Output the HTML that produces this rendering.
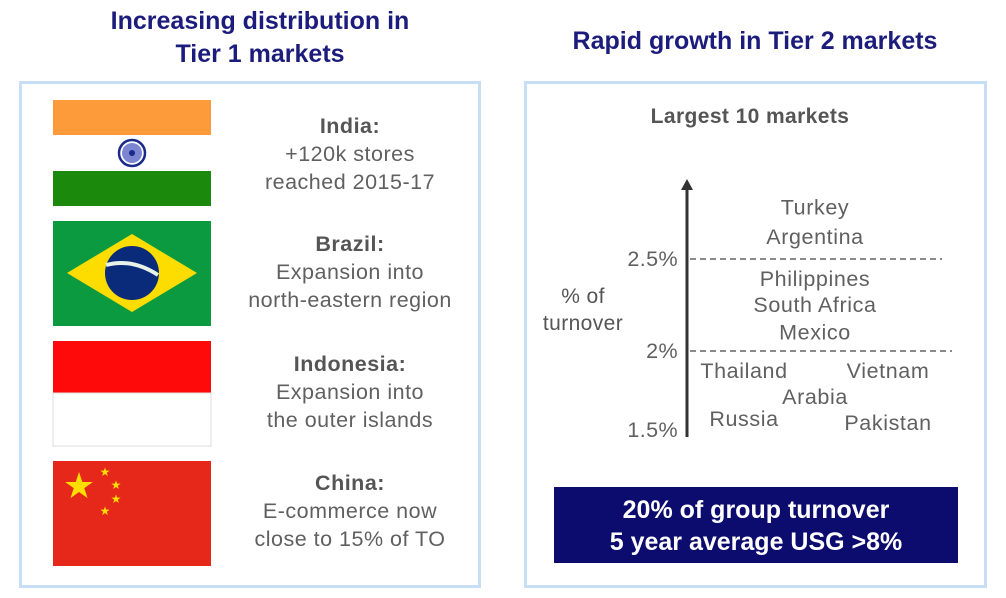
<!DOCTYPE html>
<html><head><meta charset="utf-8"><style>
body{margin:0;width:1006px;height:598px;background:#fff;font-family:"Liberation Sans",sans-serif;position:relative;overflow:hidden}
.abs{position:absolute}
.title{color:#1c1c7c;font-weight:bold;font-size:25px;text-align:center;line-height:33px}
.panel{border:3px solid #c8def6;box-sizing:border-box}
.ctext{color:#606060;font-size:21.5px;letter-spacing:0.5px;text-align:center;line-height:28px;width:260px;left:220px}
.ctext b{color:#555}
</style></head><body>
<div class="abs title" style="left:40px;top:5px;width:440px">Increasing distribution in<br>Tier 1 markets</div>
<div class="abs title" style="left:530px;top:25px;width:450px">Rapid growth in Tier 2 markets</div>
<div class="abs panel" style="left:19px;top:81px;width:462px;height:507px"></div>
<div class="abs panel" style="left:524px;top:81px;width:463px;height:507px"></div>

<svg class="abs" style="left:0;top:0" width="1006" height="598">
<g>
<rect x="53" y="100" width="158" height="35" fill="#fd9a3a"/><rect x="53" y="135" width="158" height="36" fill="#fff"/><rect x="53" y="171" width="158" height="35" fill="#1b8a0c"/>
<circle cx="132" cy="153" r="13" fill="none" stroke="#1a2a8a" stroke-width="2.5"/><circle cx="132" cy="153" r="10" fill="#7b85d0"/><circle cx="132" cy="153" r="3" fill="#1a2a8a"/></g>
<g>
<rect x="53" y="221" width="158" height="105" fill="#0c9a40"/><polygon points="67,273 132,234 197,273 132,312" fill="#fddc00"/><circle cx="132" cy="273" r="27" fill="#0a2b7a"/><path d="M106,265 Q132,258 158,275" stroke="#e8f2e8" stroke-width="4" fill="none"/></g>
<g>
<rect x="53" y="341" width="158" height="52" fill="#ff0a0a"/><rect x="53" y="393" width="158" height="53" fill="#fff" stroke="#ddd" stroke-width="1"/></g>
<g>
<rect x="53" y="461" width="158" height="105" fill="#e5281a"/>
<text x="79" y="498" font-size="36" fill="#ffde00" text-anchor="middle">★</text>
<text x="105" y="476" font-size="12" fill="#ffde00" text-anchor="middle">★</text>
<text x="116" y="489" font-size="12" fill="#ffde00" text-anchor="middle">★</text>
<text x="116" y="503" font-size="12" fill="#ffde00" text-anchor="middle">★</text>
<text x="105" y="515" font-size="12" fill="#ffde00" text-anchor="middle">★</text></g>
</svg>

<div class="abs ctext" style="top:112px"><b>India:</b><br>+120k stores<br>reached 2015-17</div>
<div class="abs ctext" style="top:230px"><b>Brazil:</b><br>Expansion into<br>north-eastern region</div>
<div class="abs ctext" style="top:350px"><b>Indonesia:</b><br>Expansion into<br>the outer islands</div>
<div class="abs ctext" style="top:469px"><b>China:</b><br>E-commerce now<br>close to 15% of TO</div>

<div class="abs" style="left:590px;top:105px;width:320px;text-align:center;color:#555;font-weight:bold;font-size:21px;letter-spacing:0.4px">Largest 10 markets</div>
<div class="abs" style="left:523px;top:283px;width:120px;text-align:center;color:#555;font-size:21px;letter-spacing:0.4px;line-height:27px">% of<br>turnover</div>

<svg id="chart" class="abs" style="left:0;top:0" width="1006" height="598"></svg>

<div class="abs" style="left:554px;top:487px;width:404px;height:76px;background:#0c0c6e;color:#fff;font-weight:bold;font-size:25px;text-align:center;line-height:32px;padding-top:7px;box-sizing:border-box">20% of group turnover<br>5 year average USG &gt;8%</div>

<script>
const countries=["Turkey","Argentina","Philippines","South Africa","Mexico","Thailand","Vietnam","Arabia","Russia","Pakistan"];
const values=[2.78,2.62,2.39,2.25,2.10,1.89,1.89,1.75,1.63,1.61];
const columns=[1,1,1,1,1,0,2,1,0,2];
const tickValues=[2.5,2.0,1.5];
const tickLabels=["2.5%","2%","1.5%"];
const gridValues=[2.5,2.0];
const svg=document.getElementById('chart');
const NS='http://www.w3.org/2000/svg';
function y(v){return 351-(v-2.0)*184;}
function xCol(c){return [744,815,888][c];}
function mk(t,a){const e=document.createElementNS(NS,t);for(const k in a)e.setAttribute(k,a[k]);svg.appendChild(e);return e;}
const ax=mk('line',{x1:687,y1:188,x2:687,y2:437,stroke:'#333',"stroke-width":3});


const ar=mk('polygon',{points:'681,190 687,179 693,190',fill:'#333'});


gridValues.forEach((v,i)=>{
  const l=mk('line',{x1:690,x2:i==0?942:952,y1:y(v),y2:y(v),stroke:'#444',"stroke-width":1.3,"stroke-dasharray":"6,4"});
  
  
});
tickValues.forEach((v,i)=>{
  const t=mk('text',{x:678,y:Math.min(y(v),430)+7,"text-anchor":"end","font-size":21.5,fill:'#606060',"letter-spacing":0.4,"font-family":"Liberation Sans, sans-serif"});
  t.textContent=tickLabels[i];
  
  
});
countries.forEach((c,i)=>{
  const t=mk('text',{x:xCol(columns[i]),y:y(values[i])+7,"text-anchor":"middle","font-size":21.5,"letter-spacing":0.6,fill:'#606060',"font-family":"Liberation Sans, sans-serif"});
  t.textContent=c;
  
  
});
</script>
</body></html>
